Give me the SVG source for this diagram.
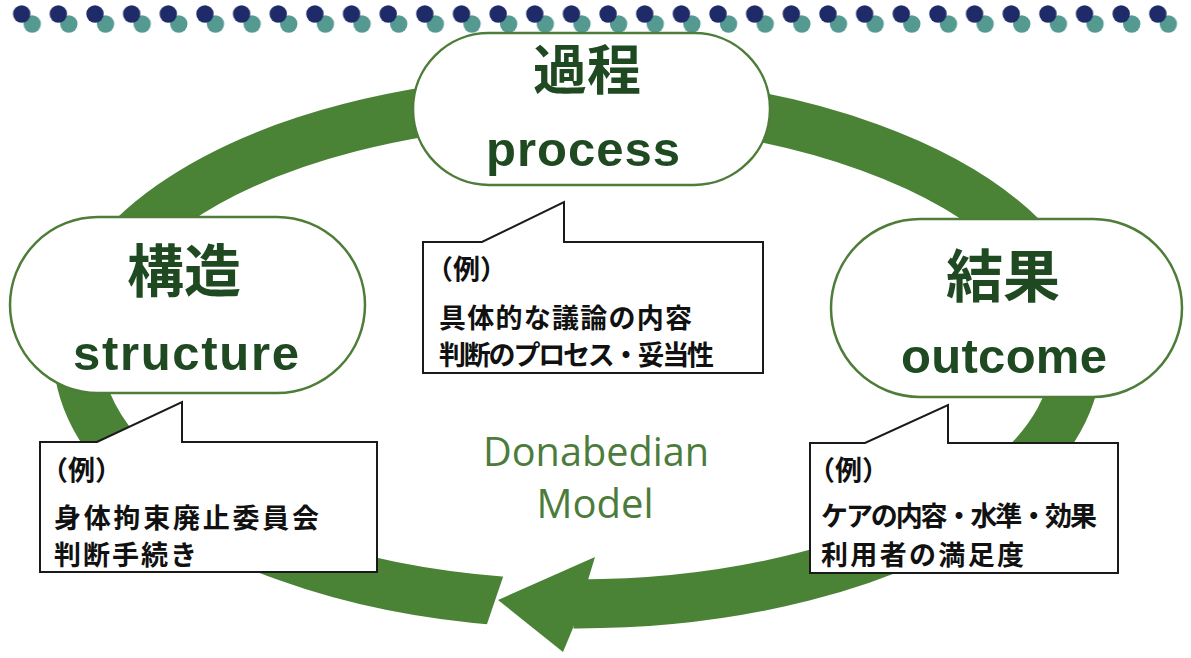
<svg xmlns="http://www.w3.org/2000/svg" width="1191" height="658" viewBox="0 0 1191 658">
  <defs>
    <pattern id="dots" patternUnits="userSpaceOnUse" x="11.7" y="0" width="36.65" height="40">
      <circle cx="20.5" cy="24" r="8.7" fill="#559a91"/>
      <circle cx="10" cy="14" r="8.7" fill="#1f2a68"/>
    </pattern>
    <style>
      .pill { fill: #ffffff; stroke: #4d7d38; stroke-width: 2.5; }
      .jp { font-family: "Noto Sans CJK JP", "Noto Sans CJK SC", sans-serif; font-weight: 700; fill: #1f4a21; text-anchor: middle; }
      .en { font-family: "Liberation Sans", Arial, sans-serif; font-weight: 700; fill: #1f4a21; text-anchor: middle; }
      .box { fill: #ffffff; stroke: #1a1a1a; stroke-width: 2; stroke-linejoin: miter; }
      .ex { font-family: "Noto Sans CJK JP", "Noto Sans CJK SC", sans-serif; font-weight: 700; font-size: 27px; fill: #111111; }
      .ring { fill: none; stroke: #4a8236; stroke-width: 49; }
      .head { fill: #4a8236; }
      .title { font-family: "Open Sans", "Noto Sans", sans-serif; font-weight: 400; font-size: 40px; fill: #4c7c3c; text-anchor: middle; }
    </style>
  </defs>
  <rect width="1191" height="658" fill="#ffffff"/>
  <rect id="dotrow" x="11.7" y="0" width="1172.8" height="40" fill="url(#dots)"/>

  <g id="connectors">
    <path class="ring" d="M 505.8 601.4 A 500 252 0 1 1 573.6 604"/>
    <polygon fill="#ffffff" points="505.4,570 516,570 516,632 484.3,632"/>
    <polygon class="head" points="498,600 595,557 588,580 573,628 563,652"/>
  </g>

  <g id="node-process">
    <rect class="pill" x="413" y="33" width="357" height="152" rx="76" ry="76"/>
    <text class="jp" x="587" y="90" font-size="54">過程</text>
    <text class="en" x="583" y="166" font-size="49" textLength="194" lengthAdjust="spacing">process</text>
  </g>

  <g id="node-structure">
    <rect class="pill" x="10" y="217" width="355" height="176" rx="88" ry="88"/>
    <text class="jp" x="184" y="292" font-size="57">構造</text>
    <text class="en" x="186" y="370" font-size="49" textLength="226" lengthAdjust="spacing">structure</text>
  </g>

  <g id="node-outcome">
    <rect class="pill" x="831" y="219" width="351" height="178" rx="89" ry="89"/>
    <text class="jp" x="1003" y="297" font-size="57">結果</text>
    <text class="en" x="1004" y="373" font-size="49" textLength="206" lengthAdjust="spacing">outcome</text>
  </g>

  <g id="callout-process">
    <path class="box" d="M423,242 L482,242 L564,202 L564,242 L763,242 L763,373 L423,373 Z"/>
    <text class="ex" x="426" y="279">（例）</text>
    <text class="ex" x="439" y="328" textLength="253" lengthAdjust="spacing">具体的な議論の内容</text>
    <text class="ex" x="439" y="365" textLength="275" lengthAdjust="spacing">判断のプロセス・妥当性</text>
  </g>

  <g id="callout-structure">
    <path class="box" d="M40,442 L97,442 L182,402 L182,442 L377,442 L377,572 L40,572 Z"/>
    <text class="ex" x="41" y="480">（例）</text>
    <text class="ex" x="54" y="528" textLength="265" lengthAdjust="spacing">身体拘束廃止委員会</text>
    <text class="ex" x="54" y="565" textLength="143" lengthAdjust="spacing">判断手続き</text>
  </g>

  <g id="callout-outcome">
    <path class="box" d="M810,443 L865,443 L948,405 L948,443 L1118,443 L1118,573 L810,573 Z"/>
    <text class="ex" x="808" y="480">（例）</text>
    <text class="ex" x="821" y="526" textLength="276" lengthAdjust="spacing">ケアの内容・水準・効果</text>
    <text class="ex" x="821" y="565" textLength="203" lengthAdjust="spacing">利用者の満足度</text>
  </g>

  <g id="title">
    <text class="title" x="596" y="466" textLength="226" lengthAdjust="spacingAndGlyphs">Donabedian</text>
    <text class="title" x="595" y="518">Model</text>
  </g>
</svg>
